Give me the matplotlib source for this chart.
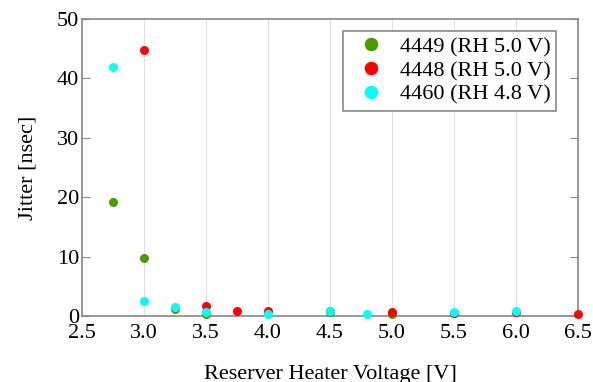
import matplotlib
matplotlib.use("Agg")
import matplotlib.pyplot as plt

plt.rcParams['font.family'] = ['Liberation Serif', 'DejaVu Serif']

x_4449 = [2.75, 3.0, 3.25, 3.5, 4.0, 4.5, 5.0, 5.5, 6.0]
y_4449 = [19.2, 9.8, 1.2, 0.3, 0.5, 0.6, 0.3, 0.5, 0.6]
x_4448 = [3.0, 3.5, 3.75, 4.0, 4.5, 5.0, 5.5, 6.0, 6.5]
y_4448 = [44.8, 1.6, 0.8, 0.8, 0.8, 0.7, 0.5, 0.6, 0.4]
x_4460 = [2.75, 3.0, 3.25, 3.5, 4.0, 4.5, 4.8, 5.5, 6.0]
y_4460 = [42.0, 2.5, 1.5, 0.6, 0.4, 0.8, 0.4, 0.7, 0.9]
labels = ['4449 (RH 5.0 V)', '4448 (RH 5.0 V)', '4460 (RH 4.8 V)']
xticks = [2.5, 3.0, 3.5, 4.0, 4.5, 5.0, 5.5, 6.0, 6.5]
yticks = [0, 10, 20, 30, 40, 50]

fig = plt.figure(figsize=(5.93, 3.82), dpi=100)
ax = fig.add_axes([0.138, 0.173, 0.837, 0.777])
ax.plot(x_4449, y_4449, 'o', color='#4c9a00', ms=6.5, mew=0, label=labels[0], clip_on=False, zorder=3)
ax.plot(x_4448, y_4448, 'o', color='#ff0000', ms=6.5, mew=0, label=labels[1], clip_on=False, zorder=3)
ax.plot(x_4460, y_4460, 'o', color='#00ffff', ms=6.5, mew=0, label=labels[2], clip_on=False, zorder=3)
ax.set_xlim(2.5, 6.5)
ax.set_ylim(0, 50)
ax.set_xticks(xticks)
ax.set_xticklabels([f'{v:.1f}' for v in xticks])
ax.set_yticks(yticks)
ax.xaxis.grid(True, color='#e0e0e0', lw=0.8, ls='-')
ax.tick_params(axis='x', length=0, pad=6, labelsize=16)
ax.tick_params(axis='y', direction='in', right=True, length=6, color='#888888', labelsize=16, pad=2)
for s in ax.spines.values():
    s.set_color('#888888')
    s.set_linewidth(1.2)
ax.set_xlabel('Reserver Heater Voltage [V]', fontsize=16, labelpad=16)
ax.set_ylabel('Jitter [nsec]', fontsize=16, labelpad=14)
leg = ax.legend(loc='upper left', bbox_to_anchor=(0.526, 0.9596), fontsize=16, markerscale=1.5,
                fancybox=False, edgecolor='#888888', framealpha=1, handletextpad=0.3,
                handlelength=2.0, borderpad=0.25, labelspacing=0.15, borderaxespad=0)
leg.get_frame().set_linewidth(1.2)
fig.savefig('out.png', dpi=100)
